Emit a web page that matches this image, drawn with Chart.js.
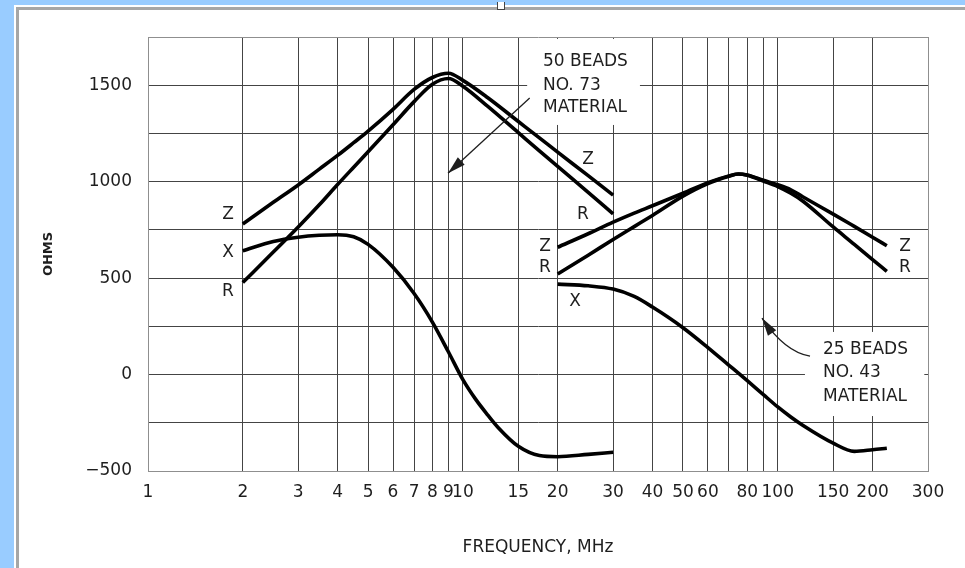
<!DOCTYPE html>
<html lang="en">
  <head>
    <meta charset="UTF-8" />
    <title>Ferrite Bead Impedance</title>
    <script src="https://cdn.jsdelivr.net/npm/chart.js"></script>
    <style>
      body {
        margin: 0;
        width: 965px;
        height: 568px;
        overflow: hidden;
        position: relative;
        background: #99ccff;
      }
      #sheet {
        position: absolute;
        left: 14px;
        top: 5px;
        right: 0;
        bottom: 0;
        background: #fff;
      }
      #edge {
        position: absolute;
        left: 16px;
        top: 7px;
        right: 0;
        bottom: 0;
        border-top: 3px solid #a6a6a6;
        border-left: 3px solid #a6a6a6;
      }
      #glyph {
        position: absolute;
        left: 497px;
        top: 2px;
        width: 6px;
        height: 7px;
        border: 1px solid #444;
        border-top: none;
        background: #fff;
      }
      #wrap {
        position: absolute;
        left: 0;
        top: 0;
        width: 965px;
        height: 568px;
      }
    </style>
  </head>
  <body>
    <div id="sheet"></div>
    <div id="edge"></div>
    <div id="glyph"></div>
    <div id="wrap"><canvas id="beadChart"></canvas></div>
    <script>
      // 50 beads, No. 73 material (MHz / ohms)
      const freq73 = [2, 2.5, 3, 3.5, 4, 4.5, 5, 6, 7, 8, 9, 10, 12, 15, 17.5, 20, 25, 30];
      const z73 = [781, 893, 983, 1065, 1136, 1202, 1262, 1375, 1478, 1540, 1562, 1525, 1435, 1312, 1227, 1153, 1031, 930];
      const r73 = [477, 635, 765, 880, 985, 1075, 1155, 1295, 1415, 1505, 1535, 1495, 1390, 1254, 1160, 1079, 945, 833];
      const freqX73 = [2, 2.5, 3, 3.5, 4, 4.5, 5, 6, 7, 8, 9, 10, 11, 12, 13, 15, 17.5, 20, 25, 30];
      const x73 = [642, 690, 712, 722, 725, 714, 675, 556, 420, 272, 117, -26, -130, -210, -278, -372, -420, -426, -414, -403];

      // 25 beads, No. 43 material
      const freq43 = [20, 25, 30, 35, 40, 50, 60, 70, 75, 80, 90, 100, 110, 120, 150, 175, 200, 222];
      const z43 = [660, 730, 790, 837, 875, 940, 995, 1030, 1040, 1035, 1007, 984, 958, 922, 832, 768, 712, 668];
      const r43 = [521, 619, 700, 767, 825, 925, 990, 1028, 1040, 1033, 1003, 975, 940, 900, 765, 675, 596, 535];
      const x43 = [469, 460, 443, 405, 350, 243, 140, 48, 7, -32, -104, -168, -220, -263, -356, -398, -390, -382];

      const xTickValues = [1, 2, 3, 4, 5, 6, 7, 8, 9, 10, 15, 20, 30, 40, 50, 60, 70, 80, 90, 100, 150, 200, 300];
      const xTickLabels = ["1", "2", "3", "4", "5", "6", "7", "8", "9", "10", "15", "20", "30", "40", "50", "60", "", "80", "", "100", "150", "200", "300"];
      const yTickValues = [-500, -250, 0, 250, 500, 750, 1000, 1250, 1500, 1750];
      const yTickLabels = ["\u2212500", "", "0", "", "500", "", "1000", "", "1500", ""];

      const ink = "#1e1e1e";
      const font = "'DejaVu Sans', 'Liberation Sans', sans-serif";

      // annotation layout, in chart units (MHz, ohms)
      const blanks = [
        { f0: 16, f1: 36.5, v0: 1740, v1: 1294 },
        { f0: 122, f1: 292, v0: 221, v1: -215 },
      ];
      const notes = [
        { text: "50 BEADS", f: 17.96, v: 1620 },
        { text: "NO. 73", f: 17.96, v: 1500 },
        { text: "MATERIAL", f: 17.96, v: 1382 },
        { text: "25 BEADS", f: 139.2, v: 128 },
        { text: "NO. 43", f: 139.2, v: 8 },
        { text: "MATERIAL", f: 139.2, v: -116 },
      ];
      const tags = [
        { text: "Z", f: 1.795, v: 827 },
        { text: "X", f: 1.795, v: 630 },
        { text: "R", f: 1.795, v: 428 },
        { text: "Z", f: 24.97, v: 1112 },
        { text: "R", f: 24.07, v: 827 },
        { text: "Z", f: 18.23, v: 661 },
        { text: "R", f: 18.23, v: 553 },
        { text: "X", f: 22.7, v: 376 },
        { text: "Z", f: 253.6, v: 661 },
        { text: "R", f: 253.6, v: 553 },
      ];
      const arrows = [
        { from: [16.3, 1434], via: [12.1, 1240], to: [8.97, 1044] },
        { from: [126.6, 96], via: [105.4, 117], to: [89.1, 293] },
      ];

      const pts = (f, v) => f.map((x, i) => ({ x: x, y: v[i] }));

      function curve(label, f, v) {
        return {
          label: label,
          data: pts(f, v),
          borderColor: "#000",
          borderWidth: 3.6,
          pointRadius: 0,
          fill: false,
          cubicInterpolationMode: "monotone",
        };
      }

      function head(ctx, tx, ty, fx, fy) {
        const a = Math.atan2(ty - fy, tx - fx);
        const len = 18, half = 5;
        ctx.beginPath();
        ctx.moveTo(tx, ty);
        ctx.lineTo(tx - len * Math.cos(a) + half * Math.sin(a), ty - len * Math.sin(a) - half * Math.cos(a));
        ctx.lineTo(tx - len * Math.cos(a) - half * Math.sin(a), ty - len * Math.sin(a) + half * Math.cos(a));
        ctx.closePath();
        ctx.fill();
      }

      const notePlugin = {
        id: "notePlugin",
        beforeDatasetsDraw(chart) {
          const { ctx, scales: { x, y } } = chart;
          ctx.save();
          ctx.fillStyle = "#fff";
          blanks.forEach((b) => {
            const l = x.getPixelForValue(b.f0);
            const r = x.getPixelForValue(b.f1);
            const t = y.getPixelForValue(b.v0);
            const btm = y.getPixelForValue(b.v1);
            ctx.fillRect(l, t, r - l, btm - t);
          });
          ctx.restore();
        },
        afterDatasetsDraw(chart) {
          const { ctx, scales: { x, y } } = chart;
          ctx.save();
          ctx.fillStyle = ink;
          ctx.font = "17px " + font;
          ctx.textBaseline = "middle";
          ctx.textAlign = "left";
          notes.forEach((n) => {
            ctx.fillText(n.text, x.getPixelForValue(n.f), y.getPixelForValue(n.v));
          });
          ctx.textAlign = "center";
          tags.forEach((t) => {
            ctx.fillText(t.text, x.getPixelForValue(t.f), y.getPixelForValue(t.v));
          });

          ctx.strokeStyle = ink;
          ctx.lineWidth = 1.3;
          arrows.forEach((a) => {
            const sx = x.getPixelForValue(a.from[0]), sy = y.getPixelForValue(a.from[1]);
            const cx = x.getPixelForValue(a.via[0]), cy = y.getPixelForValue(a.via[1]);
            const tx = x.getPixelForValue(a.to[0]), ty = y.getPixelForValue(a.to[1]);
            ctx.beginPath();
            ctx.moveTo(sx, sy);
            ctx.quadraticCurveTo(cx, cy, tx, ty);
            ctx.stroke();
            head(ctx, tx, ty, cx, cy);
          });
          ctx.restore();
        },
      };

      const gridColor = "#444";
      const edgeColor = "#8f8f8f";

      new Chart(document.getElementById("beadChart"), {
        type: "line",
        data: {
          datasets: [
            curve("Z, No. 73", freq73, z73),
            curve("R, No. 73", freq73, r73),
            curve("X, No. 73", freqX73, x73),
            curve("Z, No. 43", freq43, z43),
            curve("R, No. 43", freq43, r43),
            curve("X, No. 43", freq43, x43),
          ],
        },
        options: {
          responsive: true,
          maintainAspectRatio: false,
          animation: false,
          layout: { padding: { top: 37, right: 37, left: 0, bottom: 0 } },
          plugins: {
            legend: { display: false },
            tooltip: { enabled: false },
          },
          scales: {
            x: {
              type: "logarithmic",
              min: 1,
              max: 300,
              afterBuildTicks: (s) => {
                s.ticks = xTickValues.map((v) => ({ value: v }));
              },
              afterFit: (s) => {
                s.height = 97;
              },
              grid: {
                drawTicks: false,
                color: (c) => (c.tick && c.tick.value === 300 ? edgeColor : gridColor),
              },
              border: { color: edgeColor },
              ticks: {
                autoSkip: false,
                maxRotation: 0,
                minRotation: 0,
                padding: 11,
                color: ink,
                font: { family: font, size: 17 },
                callback: (v, i) => xTickLabels[i],
              },
              title: {
                display: true,
                text: "FREQUENCY, MHz",
                color: ink,
                font: { family: font, size: 17 },
                padding: { top: 0, bottom: 10 },
              },
            },
            y: {
              min: -500,
              max: 1750,
              afterBuildTicks: (s) => {
                s.ticks = yTickValues.map((v) => ({ value: v }));
              },
              afterFit: (s) => {
                s.width = 148;
              },
              grid: {
                drawTicks: false,
                color: (c) => (c.tick && c.tick.value === 1750 ? edgeColor : gridColor),
              },
              border: { color: edgeColor },
              ticks: {
                padding: 16,
                color: ink,
                font: { family: font, size: 17 },
                callback: (v, i) => yTickLabels[i],
              },
              title: {
                display: true,
                text: "OHMS",
                color: ink,
                font: { family: font, size: 13, weight: "bold" },
                padding: { top: 41, bottom: 0 },
              },
            },
          },
        },
        plugins: [notePlugin],
      });
    </script>
  </body>
</html>
